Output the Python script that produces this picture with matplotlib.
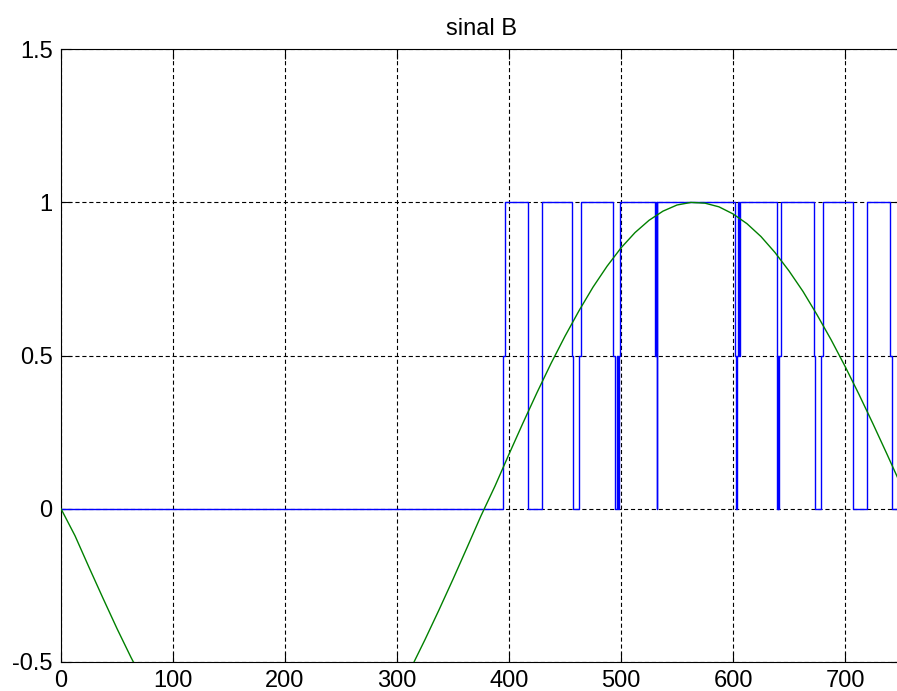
import numpy as np
import matplotlib.pyplot as plt

plt.rcParams['font.family'] = ['Liberation Sans', 'DejaVu Sans']
plt.rcParams['lines.scale_dashes'] = False

# green reference wave, every 12.5 samples
wave_x = [0, 12.5, 25, 37.5, 50, 62.5, 75, 87.5, 100, 112.5, 125, 137.5, 150,
          162.5, 175, 187.5, 200, 212.5, 225, 237.5, 250, 262.5, 275, 287.5, 300,
          312.5, 325, 337.5, 350, 362.5, 375, 387.5, 400, 412.5, 425, 437.5, 450,
          462.5, 475, 487.5, 500, 512.5, 525, 537.5, 550, 562.5, 575, 587.5, 600,
          612.5, 625, 637.5, 650, 662.5, 675, 687.5, 700, 712.5, 725, 737.5, 750]
wave_y = [0.0, -0.088, -0.191, -0.292, -0.391, -0.485, -0.573, -0.655, -0.73,
          -0.798, -0.856, -0.906, -0.945, -0.974, -0.992, -1.0, -0.996, -0.982,
          -0.957, -0.922, -0.876, -0.821, -0.757, -0.685, -0.606, -0.52, -0.427,
          -0.33, -0.23, -0.127, -0.023, 0.074, 0.178, 0.28, 0.379, 0.474, 0.563,
          0.646, 0.723, 0.791, 0.851, 0.901, 0.941, 0.971, 0.991, 0.9995, 0.997,
          0.985, 0.962, 0.93, 0.888, 0.836, 0.776, 0.709, 0.633, 0.552, 0.465,
          0.373, 0.277, 0.178, 0.077]

# blue signal: position of each change and the level it switches to
edge_x = [0, 394.9, 396.4, 417.2, 429.7,
          456.0, 457.4, 462.8, 464.0,
          493.1, 495.0, 496.5, 497.0, 498.5, 499.1,
          530.4, 531.2, 531.8, 532.3, 532.5,
          601.8, 603.0, 603.5, 604.3, 605.0, 606.3,
          639.0, 639.3, 640.3, 640.6, 641.3, 642.6,
          672.0, 673.2, 678.3, 680.6,
          706.9, 707.5, 719.4, 740.2, 742.2]
edge_level = [0, 0.5, 1, 0, 1,
              0.5, 0, 0.5, 1,
              0.5, 0, 0.5, 0, 0.5, 1,
              0.5, 1, 0.5, 0, 1,
              0.5, 0, 0.5, 1, 0.5, 1,
              0.5, 0, 0.5, 0, 0.5, 1,
              0.5, 0, 0.5, 1,
              0.5, 0, 1, 0.5, 0]
x_end = 750

xticks = [0, 100, 200, 300, 400, 500, 600, 700]
yticks = [-0.5, 0, 0.5, 1, 1.5]
ytick_labels = ['-0.5', '0', '0.5', '1', '1.5']

fig = plt.figure(figsize=(8.97, 6.91), dpi=100)
ax = fig.add_axes([61 / 897, 1 - 662 / 691, 840 / 897, 613 / 691])

ax.step(edge_x + [x_end], edge_level + [edge_level[-1]], where='post',
        color='#0000ff', lw=1.0, zorder=3)
ax.plot(wave_x, wave_y, color='#008000', lw=1.0, zorder=4)

ax.set_xlim(0, x_end)
ax.set_ylim(-0.5, 1.5)
ax.set_xticks(xticks)
ax.set_xticklabels([str(t) for t in xticks])
ax.set_yticks(yticks)
ax.set_yticklabels(ytick_labels)

ax.grid(True, color='black', linestyle=(0, (3, 2)), lw=0.8, zorder=1)
ax.tick_params(direction='in', length=7, width=0.8, top=True, right=True,
               labelsize=17, pad=6)
for s in ax.spines.values():
    s.set_linewidth(0.8)
ax.spines['right'].set_visible(False)

ax.set_title('sinal B', fontsize=17, pad=10)

fig.savefig('out.png', dpi=100)
